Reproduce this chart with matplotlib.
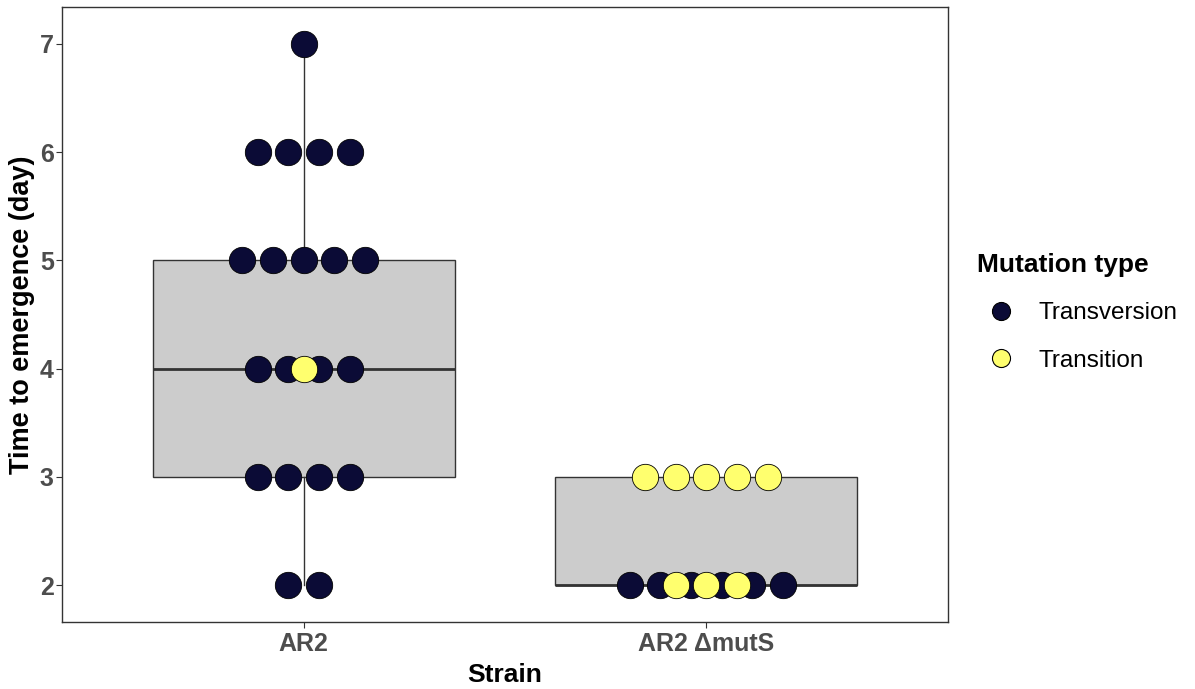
import matplotlib.pyplot as plt
import numpy as np
from matplotlib.lines import Line2D

plt.rcParams['font.family'] = ['Liberation Sans', 'DejaVu Sans']

strains = ['AR2', 'AR2 \u0394mutS']
types = ['Transversion', 'Transition']
colors = {'Transversion': '#0b0b36', 'Transition': '#ffff6e'}

# time to emergence (days) per strain and mutation type
ar2_transversion = [2, 2, 3, 3, 3, 3, 4, 4, 4, 4, 5, 5, 5, 5, 5, 6, 6, 6, 6, 7]
ar2_transition = [4]
muts_transversion = [2, 2, 2, 2, 2, 2]
muts_transition = [2, 2, 2, 3, 3, 3, 3, 3]

data = {
    'AR2': {'Transversion': ar2_transversion, 'Transition': ar2_transition},
    'AR2 \u0394mutS': {'Transversion': muts_transversion, 'Transition': muts_transition},
}

fig = plt.figure(figsize=(11.95, 6.89), dpi=100)
ax = fig.add_axes([0.0519, 0.0972, 0.7414, 0.8926])

# boxplots of all values per strain
all_vals = [data[s]['Transversion'] + data[s]['Transition'] for s in strains]
ax.boxplot(all_vals, positions=[1, 2], widths=0.75, patch_artist=True,
           showfliers=False, showcaps=False, whis=(0, 100),
           boxprops=dict(facecolor='#cccccc', edgecolor='#333333', linewidth=1.0),
           whiskerprops=dict(color='#333333', linewidth=1.0),
           medianprops=dict(color='#333333', linewidth=2.0), zorder=1)

# centred dot stacks, one stack per mutation type
spacing = 0.076
for i, s in enumerate(strains):
    for t in types:
        vals = np.array(data[s][t])
        for y in np.unique(vals):
            n = np.sum(vals == y)
            xs = i + 1 + (np.arange(n) - (n - 1) / 2) * spacing
            ax.scatter(xs, [y] * n, s=360, color=colors[t], edgecolors='black',
                       linewidths=0.6, zorder=3)

ax.set_xlim(0.4, 2.6)
ax.set_ylim(1.66, 7.34)
ax.set_xticks([1, 2])
ax.set_xticklabels(strains)
ax.set_yticks([2, 3, 4, 5, 6, 7])
for lab in ax.get_xticklabels() + ax.get_yticklabels():
    lab.set_fontweight('bold')
    lab.set_color('#4d4d4d')
    lab.set_fontsize(18)
ax.tick_params(length=4.5, color='#333333', width=0.8)
ax.tick_params(axis='y', pad=1.5)
ax.tick_params(axis='x', pad=3)
for sp in ax.spines.values():
    sp.set_color('#333333')
    sp.set_linewidth(1.0)

ax.set_xlabel('Strain', fontsize=19, fontweight='bold')
ax.set_ylabel('Time to emergence (day)', fontsize=19.5, fontweight='bold')
ax.xaxis.set_label_coords(0.5, -0.066)
ax.yaxis.set_label_coords(-0.031, 0.5)

handles = [Line2D([], [], marker='o', linestyle='', markersize=13,
                  markerfacecolor=colors[t], markeredgecolor='black',
                  markeredgewidth=0.8, label=t) for t in types]
leg = fig.legend(handles=handles, title='Mutation type', loc='center left',
                 bbox_to_anchor=(0.803, 0.547), frameon=False, fontsize=17.5,
                 title_fontproperties={'weight': 'bold', 'size': 19},
                 labelspacing=1.05, handletextpad=0.55, borderpad=0.2)
leg._legend_box.align = 'left'

fig.savefig('out.png', dpi=100)
